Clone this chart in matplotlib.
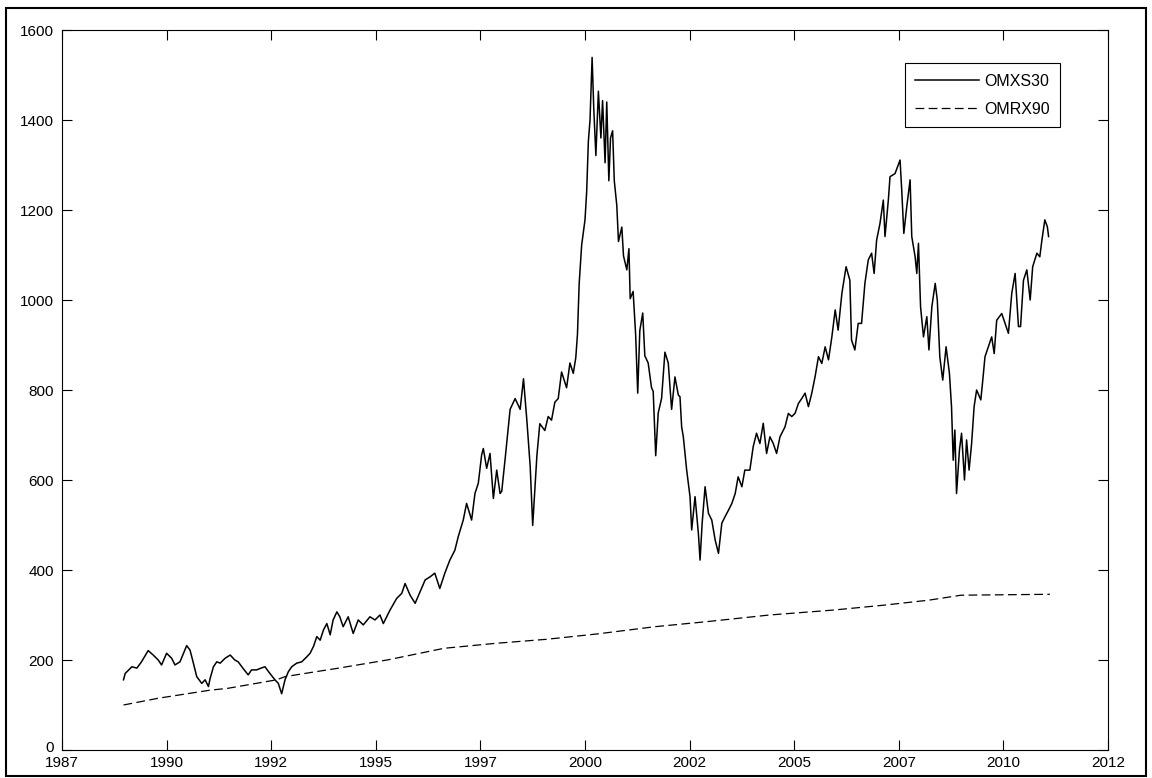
import numpy as np
import matplotlib
matplotlib.use('Agg')
import matplotlib.pyplot as plt
import matplotlib.transforms as mtransforms
from matplotlib.patches import Rectangle

# OMXS30 (decimal years)
omx_year = [1988.97, 1989.01, 1989.17, 1989.29, 1989.40, 1989.56, 1989.68, 1989.80, 1989.88, 1990.00,
            1990.12, 1990.20, 1990.32, 1990.48, 1990.56, 1990.64, 1990.72, 1990.84, 1990.92, 1991.00,
            1991.04, 1991.12, 1991.20, 1991.28, 1991.40, 1991.52, 1991.63, 1991.71, 1991.83, 1991.95,
            1992.03, 1992.15, 1992.23, 1992.35, 1992.47, 1992.59, 1992.67, 1992.75, 1992.83, 1992.91,
            1992.99, 1993.11, 1993.23, 1993.35, 1993.43, 1993.51, 1993.59, 1993.67, 1993.75, 1993.83,
            1993.91, 1993.98, 1994.07, 1994.14, 1994.22, 1994.34, 1994.46, 1994.58, 1994.70, 1994.86,
            1994.98, 1995.10, 1995.18, 1995.34, 1995.50, 1995.62, 1995.70, 1995.82, 1995.94, 1996.06,
            1996.18, 1996.30, 1996.41, 1996.53, 1996.65, 1996.77, 1996.89, 1996.97, 1997.09, 1997.17,
            1997.29, 1997.37, 1997.45, 1997.53, 1997.57, 1997.65, 1997.73, 1997.81, 1997.89, 1997.97,
            1998.01, 1998.09, 1998.21, 1998.33, 1998.45, 1998.53, 1998.61, 1998.69, 1998.75, 1998.85,
            1998.92, 1999.04, 1999.12, 1999.20, 1999.28, 1999.36, 1999.44, 1999.56, 1999.64, 1999.72,
            1999.78, 1999.82, 1999.86, 1999.92, 2000.00, 2000.04, 2000.08, 2000.12, 2000.17, 2000.21,
            2000.26, 2000.32, 2000.38, 2000.42, 2000.48, 2000.52, 2000.57, 2000.61, 2000.66, 2000.70,
            2000.76, 2000.80, 2000.88, 2000.92, 2001.00, 2001.05, 2001.08, 2001.15, 2001.21, 2001.26,
            2001.31, 2001.38, 2001.43, 2001.51, 2001.59, 2001.63, 2001.69, 2001.75, 2001.83, 2001.91,
            2001.99, 2002.07, 2002.15, 2002.23, 2002.27, 2002.31, 2002.35, 2002.43, 2002.51, 2002.55,
            2002.63, 2002.71, 2002.75, 2002.80, 2002.87, 2002.95, 2003.03, 2003.11, 2003.19, 2003.27,
            2003.35, 2003.43, 2003.51, 2003.59, 2003.66, 2003.75, 2003.82, 2003.94, 2004.02, 2004.10,
            2004.18, 2004.26, 2004.34, 2004.42, 2004.50, 2004.58, 2004.66, 2004.78, 2004.86, 2004.94,
            2005.02, 2005.10, 2005.18, 2005.26, 2005.34, 2005.42, 2005.50, 2005.58, 2005.66, 2005.74,
            2005.82, 2005.90, 2005.98, 2006.05, 2006.14, 2006.24, 2006.33, 2006.37, 2006.45, 2006.53,
            2006.61, 2006.69, 2006.77, 2006.85, 2006.91, 2006.97, 2007.05, 2007.13, 2007.17, 2007.25,
            2007.29, 2007.41, 2007.53, 2007.57, 2007.62, 2007.69, 2007.77, 2007.81, 2007.89, 2007.93,
            2007.97, 2008.02, 2008.09, 2008.17, 2008.22, 2008.29, 2008.37, 2008.42, 2008.48, 2008.55,
            2008.63, 2008.71, 2008.76, 2008.80, 2008.84, 2008.88, 2008.95, 2009.00, 2009.07, 2009.12,
            2009.18, 2009.24, 2009.30, 2009.36, 2009.46, 2009.50, 2009.56, 2009.64, 2009.72, 2009.78,
            2009.84, 2009.96, 2010.04, 2010.12, 2010.20, 2010.28, 2010.36, 2010.41, 2010.48, 2010.56,
            2010.64, 2010.70, 2010.80, 2010.87, 2010.92, 2010.99, 2011.05, 2011.08]
omx_val = [156, 170, 185, 182, 196, 221, 211, 200, 189, 215,
           204, 189, 196, 232, 222, 193, 163, 148, 156, 141,
           159, 185, 196, 193, 204, 211, 200, 196, 181, 167,
           178, 178, 181, 185, 170, 156, 148, 125, 156, 174,
           185, 193, 196, 207, 215, 230, 252, 244, 267, 281,
           256, 289, 307, 296, 274, 296, 259, 289, 278, 296,
           289, 300, 281, 311, 337, 348, 370, 344, 326, 352,
           378, 385, 393, 359, 393, 422, 444, 474, 511, 548,
           511, 570, 593, 656, 670, 626, 659, 559, 622, 570,
           575, 646, 757, 781, 757, 825, 733, 630, 499, 654,
           725, 710, 741, 733, 773, 781, 840, 805, 860, 837,
           872, 924, 1035, 1122, 1178, 1241, 1352, 1400, 1539, 1424,
           1321, 1464, 1360, 1443, 1305, 1440, 1265, 1360, 1376, 1265,
           1210, 1130, 1162, 1098, 1067, 1114, 1003, 1019, 924, 793,
           932, 971, 876, 860, 805, 797, 654, 749, 781, 884,
           860, 757, 829, 789, 785, 718, 696, 622, 563, 489,
           563, 481, 422, 504, 585, 526, 511, 467, 437, 504,
           519, 533, 548, 570, 607, 585, 622, 622, 674, 704,
           681, 726, 659, 696, 681, 659, 696, 718, 748, 741,
           748, 770, 781, 793, 763, 793, 830, 874, 859, 896,
           867, 918, 978, 933, 1015, 1074, 1044, 911, 889, 948,
           948, 1037, 1089, 1104, 1059, 1133, 1170, 1222, 1141, 1222,
           1274, 1281, 1311, 1244, 1148, 1207, 1267, 1141, 1096, 1059,
           1126, 985, 918, 963, 889, 985, 1037, 1000, 874, 822,
           896, 837, 763, 644, 711, 570, 667, 704, 600, 689,
           622, 681, 763, 800, 778, 815, 874, 896, 918, 881,
           955, 970, 948, 926, 1015, 1059, 941, 941, 1044, 1067,
           1000, 1074, 1104, 1096, 1133, 1178, 1163, 1141]

# OMRX90
omr_year = [1988.97, 1989.80, 1991.04, 1991.46, 1992.63, 1992.83, 1993.43, 1994.05, 1995.27,
            1996.63, 1997.86, 1999.08, 2000.30, 2001.67, 2002.89, 2004.41, 2005.94, 2007.16,
            2008.22, 2008.99, 2011.11]
omr_val = [100, 115, 133, 137, 156, 163, 172, 181, 200,
           226, 237, 246, 258, 274, 285, 300, 311, 322,
           333, 344, 346]

xtick_labels = ['1987', '1990', '1992', '1995', '1997', '2000', '2002', '2005', '2007', '2010', '2012']
yticks = [0, 200, 400, 600, 800, 1000, 1200, 1400, 1600]

plt.rcParams['font.family'] = ['Liberation Sans', 'DejaVu Sans']

fig = plt.figure(figsize=(11.52, 7.78), dpi=100)
ax = fig.add_axes([62 / 1152, 1 - 750 / 778, 1046 / 1152, 720 / 778])

ax.plot(omx_year, omx_val, color='black', lw=1.1, label='OMXS30')
ax.plot(omr_year, omr_val, color='black', lw=0.9, dashes=(7, 3.5), label='OMRX90')

ax.set_xlim(1987.5, 2012.5)
ax.set_ylim(0, 1600)
ax.set_xticks(np.arange(1987.5, 2013, 2.5))
ax.set_xticklabels(xtick_labels)
ax.set_yticks(yticks)
ax.tick_params(direction='in', length=7, width=0.8, top=True, right=True,
               labelsize=11, colors='black')
ax.tick_params(axis='x', pad=4)
ax.tick_params(axis='y', pad=6)
for s in ax.spines.values():
    s.set_linewidth(0.8)

# lift the "0" label a little so it sits just above "1987"
zero_lbl = ax.get_yticklabels()[0]
zero_lbl.set_transform(zero_lbl.get_transform() +
                       mtransforms.ScaledTranslation(0, 4 / 100, fig.dpi_scale_trans))

leg = ax.legend(loc='upper right', bbox_to_anchor=(0.954, 0.954), borderaxespad=0,
                fontsize=11.5, handlelength=4, handletextpad=0.3, labelspacing=0.85,
                borderpad=0.65, fancybox=False, framealpha=1)
leg.get_frame().set_edgecolor('black')
leg.get_frame().set_linewidth(0.8)

# window border
fig.patches.append(Rectangle((6 / 1152, 2 / 778), 1140 / 1152, 768 / 778,
                             transform=fig.transFigure, fill=False, lw=1.5, ec='black'))

fig.savefig('out.png', dpi=100)
